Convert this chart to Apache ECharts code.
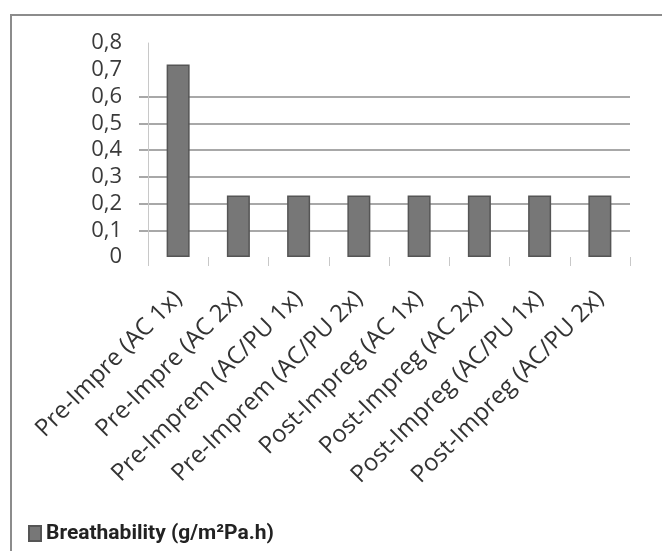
<!DOCTYPE html>
<html>
<head>
<meta charset="utf-8">
<script src="https://cdn.jsdelivr.net/npm/echarts@6/dist/echarts.min.js"></script>
<style>html,body{margin:0;padding:0;background:#fff;}#c{width:662px;height:551px;}</style>
</head>
<body>
<div id="c"></div>
<script>
const categories = [
  'Pre-Impre (AC 1x)',
  'Pre-Impre (AC 2x)',
  'Pre-Imprem (AC/PU 1x)',
  'Pre-Imprem (AC/PU 2x)',
  'Post-Impreg (AC 1x)',
  'Post-Impreg (AC 2x)',
  'Post-Impreg (AC/PU 1x)',
  'Post-Impreg (AC/PU 2x)'
];
const breathability = [0.72, 0.23, 0.23, 0.23, 0.23, 0.23, 0.23, 0.23];
const seriesName = 'Breathability (g/m\u00B2Pa.h)';
const yMin = 0, yMax = 0.8, yStep = 0.1;

const chart = echarts.init(document.getElementById('c'));
const gridTop = 43, gridBottom = 294, gridRight = 32;
chart.setOption({
  backgroundColor: '#fff',
  animation: false,
  graphic: [{
    type: 'rect', left: 10, top: 14, silent: true, z: -10,
    shape: { width: 700, height: 600 },
    style: { fill: '#fff', stroke: '#8c8c8c', lineWidth: 2 }
  }],
  grid: [
    { left: 148, right: gridRight, top: gridTop, bottom: gridBottom },
    { left: 139, right: gridRight, top: gridTop, bottom: gridBottom }
  ],
  legend: {
    left: 23, top: 518,
    itemWidth: 12, itemHeight: 15, itemGap: 8,
    icon: 'rect',
    textStyle: { fontFamily: 'Roboto', fontWeight: 'bold', fontSize: 21, color: '#222' },
    data: [seriesName]
  },
  xAxis: [{
    type: 'category', gridIndex: 0, data: categories,
    axisLine: { show: false },
    axisTick: { show: true, alignWithLabel: false, length: 9, lineStyle: { color: '#c8c8c8', width: 1 } },
    axisLabel: {
      rotate: 45, margin: 38, interval: 0,
      fontFamily: 'Open Sans', fontSize: 24, color: '#333'
    },
    splitLine: { show: false }
  }, {
    type: 'value', gridIndex: 1, show: false, min: 0, max: 1
  }],
  yAxis: [{
    type: 'value', gridIndex: 0, min: yMin, max: yMax, interval: yStep,
    axisLine: { show: true, lineStyle: { color: '#c8c8c8', width: 1 } },
    axisTick: { show: false },
    axisLabel: {
      margin: 26, fontFamily: 'Open Sans', fontSize: 22, color: '#3a3a3a',
      formatter: v => (Math.round(v * 10) / 10).toString().replace('.', ',')
    },
    splitLine: { show: false }
  }, {
    type: 'value', gridIndex: 1, min: yMin, max: yMax, interval: yStep,
    axisLine: { show: false }, axisTick: { show: false }, axisLabel: { show: false },
    splitLine: {
      show: true,
      lineStyle: {
        width: 2,
        color: ['rgba(0,0,0,0)', '#a8a8a8', '#a8a8a8', '#a8a8a8', '#a8a8a8', '#a8a8a8', '#a8a8a8', 'rgba(0,0,0,0)', 'rgba(0,0,0,0)']
      }
    }
  }],
  series: [{
    name: seriesName,
    type: 'bar', xAxisIndex: 0, yAxisIndex: 0,
    data: breathability,
    barWidth: 23, z: 5,
    itemStyle: { color: '#777777', borderColor: '#555555', borderWidth: 1.5 }
  }]
});
</script>
</body>
</html>
